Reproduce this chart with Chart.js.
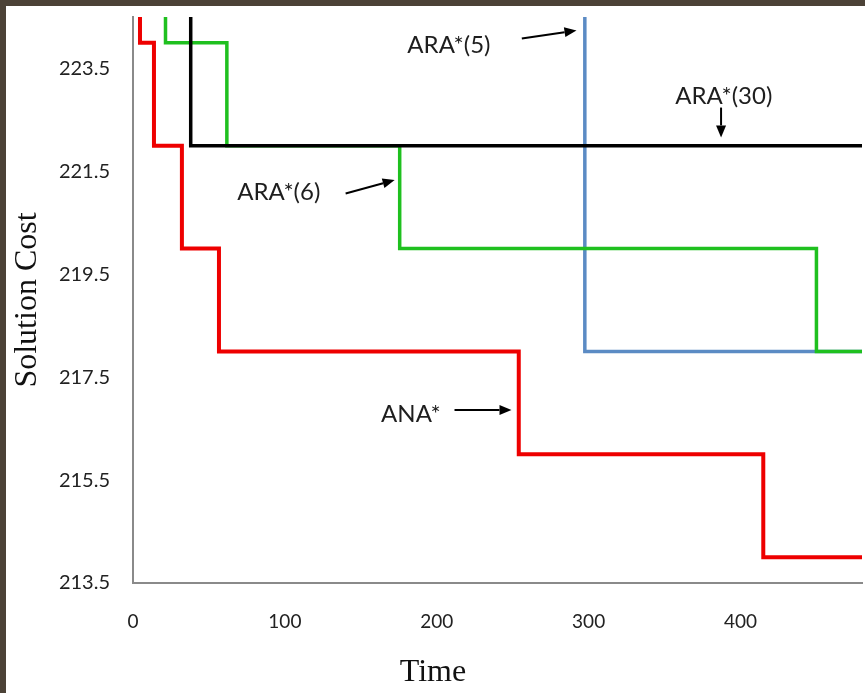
<!DOCTYPE html>
<html>
<head>
<meta charset="utf-8">
<script src="https://cdn.jsdelivr.net/npm/chart.js@4.4.1/dist/chart.umd.min.js"></script>
<style>
  html, body { margin: 0; padding: 0; }
  body { width: 865px; height: 693px; background: #4c4237; overflow: hidden; }
  #wrap { position: absolute; left: 6px; top: 6px; width: 859px; height: 687px; background: #fff; }
</style>
</head>
<body>
<div id="wrap"><canvas id="cost"></canvas></div>
<script>
// time of each improvement and the solution cost reached at that time
const anaTimes = [4.6, 13.8, 32.2, 56.6, 254, 415, 480];
const anaCosts = [224, 222, 220, 218, 216, 214, 214];
const ara6Times = [21.4, 61.8, 175.6, 450, 480];
const ara6Costs = [224, 222, 220, 218, 218];
const ara30Times = [38, 480];
const ara30Costs = [222, 222];
const ara5Times = [297.5, 480];
const ara5Costs = [218, 218];

const timeTicks = [0, 100, 200, 300, 400];
const costTicks = [213.5, 215.5, 217.5, 219.5, 221.5, 223.5];
const timeMax = 480;
const costMin = 213.5;
const costMax = 224.5;

// each run enters from the top of the plot, then steps down
function steps(times, costs) {
  const pts = [{ x: times[0], y: costMax }];
  times.forEach((t, i) => pts.push({ x: t, y: costs[i] }));
  return pts;
}

// callouts, in data coordinates
const notes = [
  { text: 'ARA*(5)',  at: [208, 223.95], from: [256, 224.08], to: [292, 224.24] },
  { text: 'ARA*(30)', at: [389, 222.96], from: [387.2, 222.74], to: [387.2, 222.16] },
  { text: 'ARA*(6)',  at: [96, 221.09],  from: [140, 221.07], to: [172.3, 221.33] },
  { text: 'ANA*',     at: [183, 216.78], from: [211.7, 216.86], to: [249.2, 216.86] }
];

const calloutPlugin = {
  id: 'callouts',
  afterDatasetsDraw(chart) {
    const { ctx, scales: { x, y } } = chart;
    ctx.save();
    ctx.font = '24px Lato';
    ctx.textAlign = 'center';
    ctx.textBaseline = 'middle';
    ctx.strokeStyle = '#000';
    notes.forEach(n => {
      ctx.fillStyle = '#1e1e1e';
      ctx.fillText(n.text, x.getPixelForValue(n.at[0]), y.getPixelForValue(n.at[1]));
      const x1 = x.getPixelForValue(n.from[0]), y1 = y.getPixelForValue(n.from[1]);
      const x2 = x.getPixelForValue(n.to[0]), y2 = y.getPixelForValue(n.to[1]);
      const a = Math.atan2(y2 - y1, x2 - x1);
      const head = 12, half = 5;
      const bx = x2 - head * Math.cos(a), by = y2 - head * Math.sin(a);
      ctx.lineWidth = 2;
      ctx.beginPath();
      ctx.moveTo(x1, y1);
      ctx.lineTo(bx, by);
      ctx.stroke();
      ctx.beginPath();
      ctx.moveTo(x2, y2);
      ctx.lineTo(bx + half * Math.sin(a), by - half * Math.cos(a));
      ctx.lineTo(bx - half * Math.sin(a), by + half * Math.cos(a));
      ctx.closePath();
      ctx.fillStyle = '#000';
      ctx.fill();
    });
    ctx.restore();
  }
};

// x title sits left of the plot centre, so it is drawn by hand
const timeTitlePlugin = {
  id: 'timeTitle',
  afterDraw(chart) {
    const ctx = chart.ctx;
    ctx.save();
    ctx.font = '32px "Liberation Serif"';
    ctx.fillStyle = '#111';
    ctx.textAlign = 'center';
    ctx.textBaseline = 'alphabetic';
    ctx.fillText('Time', 427, 675);
    ctx.restore();
  }
};

const line = (label, times, costs, color, width) => ({
  label,
  data: steps(times, costs),
  borderColor: color,
  backgroundColor: color,
  borderWidth: width,
  stepped: 'before',
  pointRadius: 0,
  fill: false
});

new Chart(document.getElementById('cost'), {
  type: 'line',
  data: {
    datasets: [
      line('ANA*', anaTimes, anaCosts, '#ee0000', 4),
      line('ARA*(30)', ara30Times, ara30Costs, '#000000', 3.5),
      line('ARA*(6)', ara6Times, ara6Costs, '#1fc01f', 3.5),
      line('ARA*(5)', ara5Times, ara5Costs, '#5b8bc4', 3.5)
    ]
  },
  options: {
    responsive: true,
    maintainAspectRatio: false,
    animation: false,
    layout: { padding: { left: 0, top: 11, right: 3, bottom: 0 } },
    plugins: { legend: { display: false }, tooltip: { enabled: false } },
    scales: {
      x: {
        type: 'linear',
        min: 0,
        max: timeMax,
        afterBuildTicks: axis => { axis.ticks = timeTicks.map(v => ({ value: v })); },
        afterFit: scale => { scale.height = 110; scale.paddingLeft = 0; scale.paddingRight = 0; },
        grid: { display: false, drawTicks: false },
        border: { display: true, color: '#8a8a8a', width: 2 },
        ticks: {
          padding: 27,
          color: '#222',
          font: { family: 'Lato', size: 19 },
          maxRotation: 0,
          callback: v => String(v)
        }
      },
      y: {
        type: 'linear',
        min: costMin,
        max: costMax,
        afterBuildTicks: axis => { axis.ticks = costTicks.map(v => ({ value: v })); },
        afterFit: scale => { scale.width = 127; scale.paddingTop = 0; scale.paddingBottom = 0; },
        grid: { display: false, drawTicks: false },
        border: { display: true, color: '#8a8a8a', width: 2 },
        title: {
          display: true,
          text: 'Solution Cost',
          color: '#111',
          font: { family: 'Liberation Serif', size: 32 },
          padding: { top: 2, bottom: 0 }
        },
        ticks: {
          padding: 23,
          color: '#222',
          font: { family: 'Lato', size: 20 },
          callback: v => Number(v).toFixed(1)
        }
      }
    }
  },
  plugins: [calloutPlugin, timeTitlePlugin]
});
</script>
</body>
</html>
